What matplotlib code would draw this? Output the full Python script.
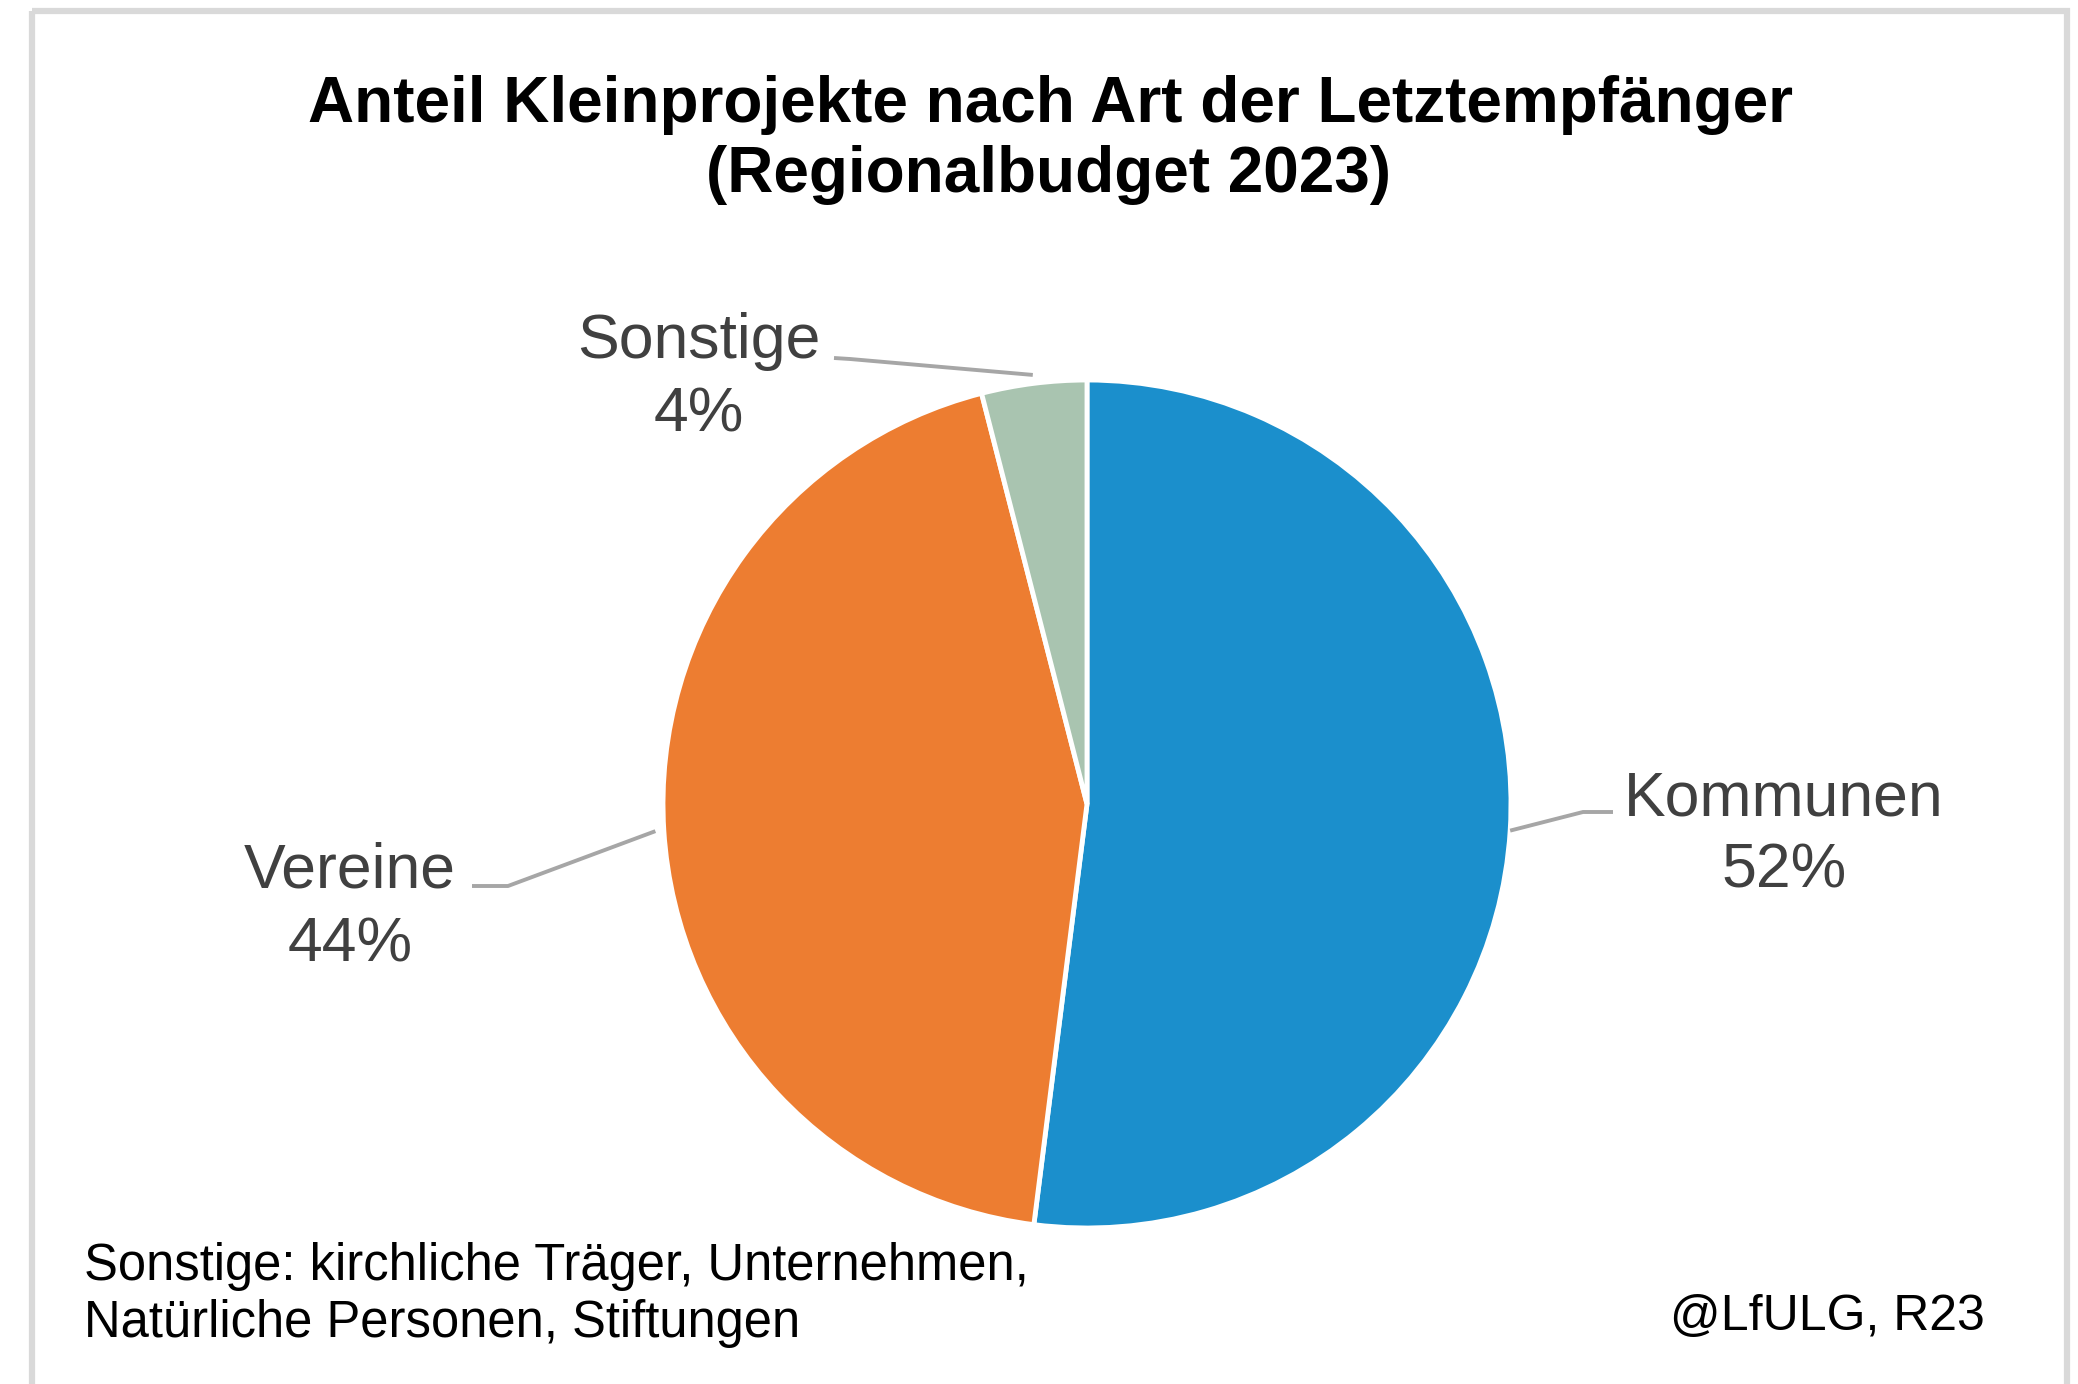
import matplotlib
matplotlib.use("Agg")
import matplotlib.pyplot as plt
from matplotlib.patches import Rectangle
import numpy as np

# Daten
kategorien = ["Kommunen", "Vereine", "Sonstige"]
anteile = [52, 44, 4]
farben = ["#1B8FCC", "#ED7D31", "#A9C4B0"]

titel_zeilen = ["Anteil Kleinprojekte nach Art der Letztempfänger", "(Regionalbudget 2023)"]
fussnote_zeilen = ["Sonstige: kirchliche Träger, Unternehmen,", "Natürliche Personen, Stiftungen"]
quelle = "@LfULG, R23"

W, H = 2078, 1384
plt.rcParams['font.family'] = ['Liberation Sans', 'DejaVu Sans']

fig = plt.figure(figsize=(W / 100, H / 100), dpi=100)
ax = fig.add_axes([0, 0, 1, 1])

# Pie (y-Achse invertiert -> counterclock=True ergibt im Bild Uhrzeigersinn)
cx, cy, r = 1087, 804, 424
wedges, _ = ax.pie(anteile, colors=farben, startangle=-90, counterclock=True,
                   center=(cx, cy), radius=r, frame=True,
                   wedgeprops=dict(edgecolor="white", linewidth=3.5))
ax.set_xlim(0, W)
ax.set_ylim(H, 0)
ax.axis("off")

# Rahmen
ax.add_patch(Rectangle((32, 11), 2035, 1420, fill=False, edgecolor="#D9D9D9", lw=4.5))

# Titel
ax.text(1050, 122, titel_zeilen[0], ha="center", va="baseline", fontsize=46,
        fontweight="bold", color="black")
ax.text(1048, 192, titel_zeilen[1], ha="center", va="baseline", fontsize=46,
        fontweight="bold", color="black")

# Beschriftungen
label_pos = [(1784, 815), (350, 888), (699, 358)]
knick = [(1583, 812), (508, 886), (850, 359)]
linie_ende = [(1613, 812), (472, 886), (834, 358)]
radius_faktor = [1.0, 1.02, 1.02]
for i, (name, wert) in enumerate(zip(kategorien, anteile)):
    w = wedges[i]
    ang = np.deg2rad((w.theta1 + w.theta2) / 2)
    rr = r * radius_faktor[i]
    sx = cx + rr * np.cos(ang)
    sy = cy + rr * np.sin(ang)
    ax.plot([sx, knick[i][0], linie_ende[i][0]], [sy, knick[i][1], linie_ende[i][1]],
            color="#A6A6A6", lw=2.8, solid_capstyle="butt")
    lx, ly = label_pos[i]
    ax.text(lx, ly, name, ha="center", va="baseline", fontsize=45, color="#404040")
    ax.text(lx, ly + 73, f"{wert}%", ha="center", va="baseline", fontsize=45, color="#404040")

ax.text(84, 1280, fussnote_zeilen[0], ha="left", va="baseline", fontsize=36.5, color="black")
ax.text(84, 1337, fussnote_zeilen[1], ha="left", va="baseline", fontsize=36.5, color="black")
ax.text(1985, 1330, quelle, ha="right", va="baseline", fontsize=36, color="black")

fig.savefig("out.png", dpi=100)
